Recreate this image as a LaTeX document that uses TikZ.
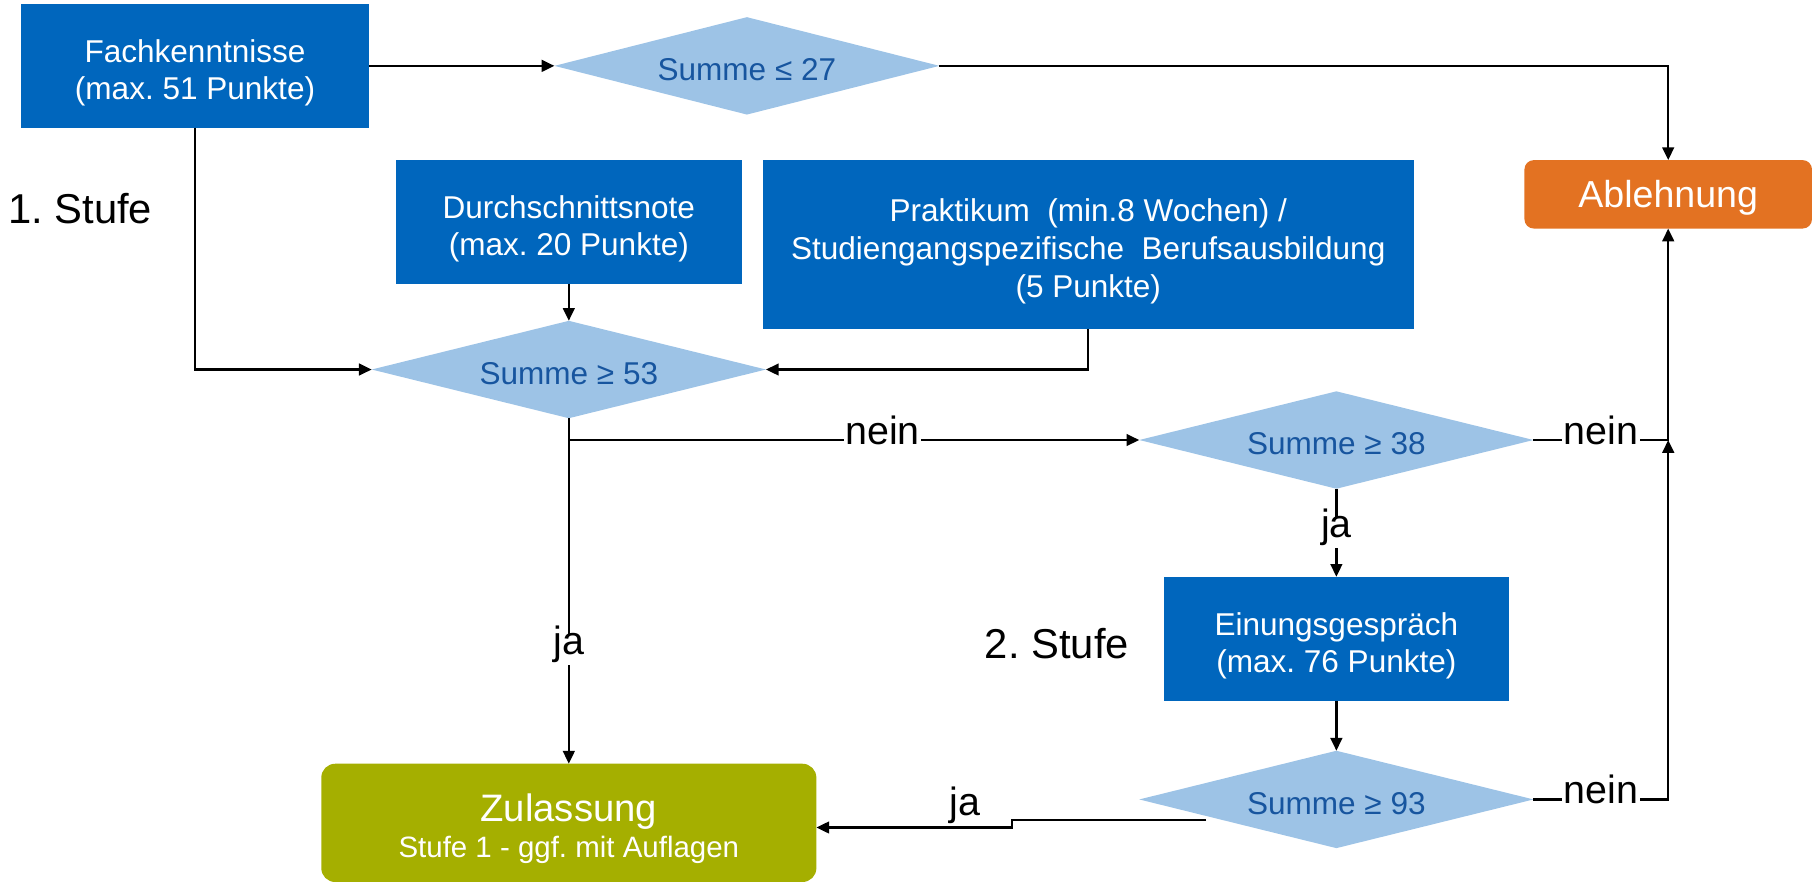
\documentclass[tikz,border=0pt]{standalone}
\usepackage{fontspec}
\setmainfont{Liberation Sans}
\usetikzlibrary{arrows.meta,positioning,shapes.geometric}
\frenchspacing

\definecolor{boxblue}{HTML}{0066BD}
\definecolor{diamondblue}{HTML}{9DC3E6}
\definecolor{textblue}{HTML}{17559F}
\definecolor{rejectorange}{HTML}{E37222}
\definecolor{admitgreen}{HTML}{A5AF00}

\begin{document}
\begin{tikzpicture}[
    every node/.style={align=center, outer sep=0pt},
    block/.style={rectangle, fill=boxblue, text=white, inner sep=0pt, minimum width=150pt, minimum height=53.3pt,
      text height=32.2pt, font=\fontsize{13.6pt}{16.3pt}\selectfont},
    decision/.style={diamond, aspect=4, fill=diamondblue, text=textblue, inner sep=0pt, minimum width=170pt, minimum height=42pt,
      font=\fontsize{13.6pt}{16pt}\selectfont, execute at begin node={\rule{0pt}{13pt}}},
    terminal/.style={rectangle, text=white, inner sep=0pt},
    stage/.style={inner sep=0pt, font=\fontsize{18pt}{21pt}\selectfont},
    edgetext/.style={fill=white, inner sep=0.6pt, text height=0.8em, text depth=0.41em, font=\fontsize{17pt}{20pt}\selectfont},
    flow/.style={line width=1.05pt, -{Triangle[length=5.5pt, width=5pt]}}
  ]
  \useasboundingbox (0,0) rectangle (784pt,-380.4pt);

  % 1. Stufe
  \node[block] (fach) at (84.1pt,-28.4pt) {Fachkenntnisse\\(max. 51 Punkte)};
  \node[decision, minimum width=166pt, right=80pt of fach] (sum27) {Summe ≤ 27};
  \node[block, minimum width=149.2pt, below right=14pt and 11.6pt of fach] (durch) {Durchschnittsnote\\(max. 20 Punkte)};
  \node[block, minimum width=280.8pt, minimum height=72.75pt, text height=48.5pt, right=9pt of durch.north east, anchor=north west] (prakt)
    {Praktikum\ \ (min.8 Wochen) /\\Studiengangspezifische\ \ Berufsausbildung\\(5 Punkte)};
  \node[terminal, fill=rejectorange, rounded corners=4pt, minimum width=124pt, minimum height=29.5pt, text depth=0pt,
    font=\fontsize{16.2pt}{19pt}\selectfont, right=47.7pt of prakt.north east, anchor=north west] (abl) {Ablehnung};
  \node[decision, below=16pt of durch] (sum53) {Summe ≥ 53};
  \node[stage, below left=28.5pt and 18.5pt of fach.south] (stufe1) {1. Stufe};

  % 2. Stufe
  \node[decision, right=161pt of sum53, yshift=-30.4pt] (sum38) {Summe ≥ 38};
  \node[block, minimum width=149pt, minimum height=53.5pt, below=38pt of sum38] (einung) {Einungsgespräch\\(max. 76 Punkte)};
  \node[decision, below=21.5pt of einung] (sum93) {Summe ≥ 93};
  \node[stage, left=15pt of einung, yshift=-2pt] (stufe2) {2. Stufe};
  \node[terminal, fill=admitgreen, rounded corners=6pt, minimum width=213.5pt, minimum height=51pt,
    font=\fontsize{12.7pt}{15.2pt}\selectfont, below=149pt of sum53] (zul)
    {{\fontsize{16.5pt}{15.2pt}\selectfont\rule{0pt}{17pt}Zulassung}\\Stufe 1 - ggf. mit Auflagen};

  % Verbindungen
  \draw[flow] (fach) -- (sum27);
  \draw[flow] (sum27.east) -| (abl.north);
  \draw[flow] (fach.south) |- (sum53.west);
  \draw[flow] (durch) -- (sum53);
  \draw[flow] (prakt.south) |- (sum53.east);
  \draw[flow] (sum53.south) -- node[edgetext, pos=0.67] {ja} (zul.north);
  \draw[flow] (sum53.south |- sum38.west) -- node[edgetext, pos=0.55] {nein} (sum38.west);
  \draw[flow] (sum38.east) -- node[edgetext] {nein} (sum38.east -| abl.south) -- (abl.south);
  \draw[flow] (sum38.south) -- node[edgetext] {ja} (einung.north);
  \draw[flow] (einung) -- (sum93);
  \draw[flow] (sum93.east) -- node[edgetext] {nein} (sum93.east -| abl.south) -- (sum38.east -| abl.south);
  \coordinate (jastart) at ([shift={(-13.7pt,1.6pt)}]sum93.south west);
  \draw[flow] (jastart) -- ++(-83.7pt,0) |- node[edgetext, fill=none, pos=0.62, above=0.3pt] {ja} ([yshift=-2pt]zul.east);
\end{tikzpicture}
\end{document}
